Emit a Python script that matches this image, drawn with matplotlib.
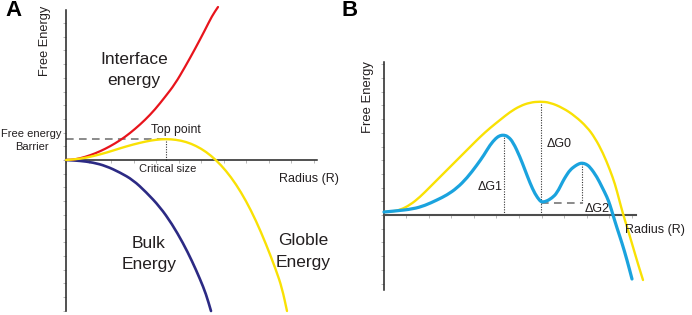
import matplotlib
matplotlib.use("Agg")
import matplotlib.pyplot as plt
from matplotlib.path import Path
from matplotlib.patches import PathPatch
from matplotlib.ticker import MultipleLocator, NullFormatter

plt.rcParams['font.family'] = ['Liberation Sans', 'DejaVu Sans']

# ---------------- Panel A data (radius, free energy; arbitrary units) ----------------
a_interface_r = [0, 0.9, 1.9, 2.9, 3.9, 4.9, 5.9, 6.9, 7.9, 8.9, 9.9, 10.9, 11.9, 12.9, 13.9, 14.6, 15.2]
a_interface_e = [0, 0.05, 0.3, 0.65, 1.1, 1.65, 2.3, 3.1, 4.0, 5.05, 6.3, 7.6, 9.3, 11.1, 13.0, 14.4, 15.3]

a_globle_r = [0, 1.4, 2.7, 4.1, 5.4, 6.7, 8.0, 9.0, 10.0, 11.0, 12.0, 13.0, 14.0, 15.0, 16.0,
              17.0, 18.0, 19.0, 20.0, 21.0, 21.6, 22.1]
a_globle_e = [0, 0.11, 0.38, 0.75, 1.17, 1.55, 1.86, 2.03, 2.1, 2.03, 1.82, 1.42, 0.83, 0.0, -1.07,
              -2.42, -4.08, -6.07, -8.4, -11.0, -12.8, -15.1]

a_bulk_r = [0, 1.4, 2.7, 4.0, 5.4, 6.7, 8.0, 9.4, 10.6, 11.7, 12.6, 13.4, 14.0, 14.5]
a_bulk_e = [0, -0.08, -0.25, -0.6, -1.25, -2.0, -3.2, -4.7, -6.4, -8.3, -10.1, -11.9, -13.4, -15.1]

a_top_r, a_top_e = 10.0, 2.1

# ---------------- Panel B data ----------------
b_yellow_r = [0, 0.8, 1.6, 2.6, 3.6, 4.6, 5.6, 6.6, 7.6, 8.6, 9.6, 10.6, 11.6, 12.6, 13.6, 14.6, 15.6,
              16.6, 17.9, 19.1, 20.3, 21.1, 21.9, 22.6, 23.1, 23.5, 23.9, 24.4, 24.9, 25.4, 25.9]
b_yellow_e = [0.3, 0.35, 0.5, 1.0, 1.8, 2.8, 3.8, 4.8, 5.8, 6.8, 7.8, 8.7, 9.5, 10.3, 10.9, 11.25, 11.35,
              11.25, 10.7, 9.9, 8.8, 7.7, 6.2, 4.5, 3.1, 1.6, 0.1, -1.5, -3.2, -4.9, -6.5]

b_blue_r = [0, 1.1, 2.9, 4.1, 5.3, 6.3, 7.3, 8.3, 9.3, 10.0, 10.6, 11.2, 11.6, 12.0, 12.4, 12.9, 13.6,
            14.1, 14.6, 15.1, 15.6, 15.8, 16.2, 16.8, 17.3, 17.9, 18.2, 18.6, 19.1, 19.5, 19.8, 20.2,
            20.6, 21.3, 21.8, 22.3, 22.6, 22.9, 23.3, 23.8, 24.3, 24.8]
b_blue_e = [0.3, 0.4, 0.6, 0.95, 1.5, 2.0, 2.7, 3.7, 5.0, 6.0, 7.0, 7.7, 7.95, 8.0, 7.85, 7.3, 5.8,
            4.5, 3.2, 2.1, 1.4, 1.3, 1.35, 1.7, 2.2, 3.4, 3.9, 4.5, 4.9, 5.13, 5.2, 5.1,
            4.8, 3.8, 2.8, 1.8, 1.0, 0.0, -1.3, -2.8, -4.5, -6.4]

b_peak1_r, b_peak1_e = 12.0, 8.0
b_peak0_r, b_peak0_e = 15.7, 11.35
b_peak2_r, b_peak2_e = 19.8, 5.2
b_min_e = 1.2

W, H = 692, 315
fig = plt.figure(figsize=(W / 100, H / 100), dpi=100)
fig.patch.set_facecolor('white')


def ax_rect(left, top, right, bottom):
    return [left / W, 1 - bottom / H, (right - left) / W, (bottom - top) / H]


def ftext(px, py, s, **kw):
    kw.setdefault('color', '#231f20')
    fig.text(px / W, 1 - py / H, s, **kw)


def smooth_curve(ax, xs, ys, **kw):
    """Draw the read points as a smooth quadratic-Bezier path (points act as control vertices)."""
    pts = list(zip(xs, ys))
    verts = [pts[0]]
    codes = [Path.MOVETO]
    mid = lambda p, q: ((p[0] + q[0]) / 2, (p[1] + q[1]) / 2)
    verts.append(mid(pts[0], pts[1]))
    codes.append(Path.LINETO)
    for i in range(1, len(pts) - 1):
        verts += [pts[i], mid(pts[i], pts[i + 1])]
        codes += [Path.CURVE3, Path.CURVE3]
    verts.append(pts[-1])
    codes.append(Path.LINETO)
    patch = PathPatch(Path(verts, codes), fill=False, capstyle='round', joinstyle='round', **kw)
    ax.add_patch(patch)


def style_axes(ax, xcol, ycol, xlw, ylw):
    for sp in ['top', 'right']:
        ax.spines[sp].set_visible(False)
    ax.spines['left'].set_position(('data', 0))
    ax.spines['bottom'].set_position(('data', 0))
    ax.spines['left'].set_color(ycol)
    ax.spines['left'].set_linewidth(ylw)
    ax.spines['bottom'].set_color(xcol)
    ax.spines['bottom'].set_linewidth(xlw)
    ax.yaxis.set_major_locator(MultipleLocator(1.37))
    ax.xaxis.set_major_locator(MultipleLocator(2.25))
    ax.xaxis.set_major_formatter(NullFormatter())
    ax.yaxis.set_major_formatter(NullFormatter())
    ax.tick_params(axis='both', length=2.5, width=0.7, color='#b8b8b8', direction='out')
    ax.patch.set_alpha(0)


# ---------------- Panel A ----------------
axA = fig.add_axes(ax_rect(66, 10, 317, 311))
axA.set_xlim(0, 25.1)
axA.set_ylim(-15.1, 15.0)
style_axes(axA, '#222222', '#222222', 1.1, 1.1)

axA.plot([0, a_top_r], [a_top_e, a_top_e], color='#6b6b6b', lw=1.1, dashes=(5, 3.5), clip_on=False, zorder=1)
axA.plot([a_top_r, a_top_r], [0, a_top_e], color='#333333', lw=0.8, ls=(0, (1, 1.3)), zorder=1)
smooth_curve(axA, a_bulk_r, a_bulk_e, edgecolor='#2c2a84', lw=1.9, clip_on=False, zorder=3)
smooth_curve(axA, a_interface_r, a_interface_e, edgecolor='#e8141c', lw=1.6, clip_on=False, zorder=3)
smooth_curve(axA, a_globle_r, a_globle_e, edgecolor='#f9e104', lw=1.7, clip_on=False, zorder=4)

ftext(13, 11, 'A', fontsize=16, fontweight='bold', ha='center', va='center', color='black')
ftext(45, 41, 'Free Energy', fontsize=9.2, rotation=90, ha='center', va='center')
ftext(134, 64, 'Interface', fontsize=12.5, ha='center', va='baseline')
ftext(134, 85, 'energy', fontsize=12.5, ha='center', va='baseline')
ftext(31, 137, 'Free energy', fontsize=8, ha='center', va='baseline')
ftext(32, 150, 'Barrier', fontsize=8, ha='center', va='baseline')
ftext(176, 133, 'Top point', fontsize=8.8, ha='center', va='baseline')
ftext(168, 172, 'Critical size', fontsize=8, ha='center', va='baseline')
ftext(279, 182, 'Radius (R)', fontsize=9, ha='left', va='baseline')
ftext(149, 248, 'Bulk', fontsize=12.5, ha='center', va='baseline')
ftext(149, 269, 'Energy', fontsize=12.5, ha='center', va='baseline')
ftext(303, 245, 'Globle', fontsize=12.5, ha='center', va='baseline')
ftext(303, 267, 'Energy', fontsize=12.5, ha='center', va='baseline')

# ---------------- Panel B ----------------
axB = fig.add_axes(ax_rect(384, 62, 636, 290))
axB.set_xlim(0, 25.2)
axB.set_ylim(-7.5, 15.3)
style_axes(axB, '#4d4d4d', '#222222', 1.5, 1.1)

for r, e in [(b_peak1_r, b_peak1_e), (b_peak0_r, b_peak0_e)]:
    axB.plot([r, r], [0, e], color='#333333', lw=0.8, ls=(0, (1, 1.3)), zorder=1)
axB.plot([b_peak2_r, b_peak2_r], [b_min_e, b_peak2_e], color='#333333', lw=0.8, ls=(0, (1, 1.3)), zorder=1)
axB.plot([b_peak0_r, b_peak2_r], [b_min_e, b_min_e], color='#6b6b6b', lw=1.1, dashes=(5, 3.5), zorder=1)
smooth_curve(axB, b_yellow_r, b_yellow_e, edgecolor='#f9e104', lw=1.7, clip_on=False, zorder=3)
smooth_curve(axB, b_blue_r, b_blue_e, edgecolor='#1aa3de', lw=2.3, clip_on=False, zorder=4)

ftext(350, 11, 'B', fontsize=16, fontweight='bold', ha='center', va='center', color='black')
ftext(368, 97, 'Free Energy', fontsize=9.4, rotation=90, ha='center', va='center')
ftext(547, 147, 'ΔG0', fontsize=9, ha='left', va='baseline')
ftext(503, 190.5, 'ΔG1', fontsize=9, ha='right', va='baseline')
ftext(585, 212, 'ΔG2', fontsize=9, ha='left', va='baseline')
ftext(625, 233, 'Radius (R)', fontsize=9, ha='left', va='baseline')

fig.savefig('out.png', dpi=100, facecolor='white')
